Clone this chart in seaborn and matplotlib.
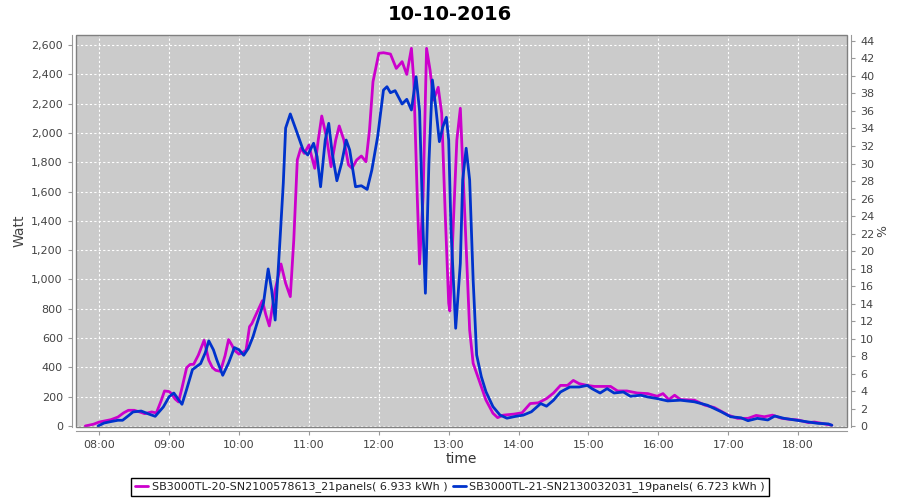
import matplotlib
matplotlib.use('Agg')
import matplotlib.pyplot as plt
import matplotlib.dates as mdates
from matplotlib.patches import Rectangle
from matplotlib.ticker import FuncFormatter, MultipleLocator
import seaborn as sns
import pandas as pd

day = '2016-10-10 '

# SB3000TL-20 (magenta), power in W
sb20_times = ['07:48', '07:55', '08:00', '08:05', '08:10', '08:16', '08:21', '08:25', '08:30', '08:35',
              '08:39', '08:45', '08:49', '08:53', '08:56', '09:00', '09:02', '09:05', '09:08', '09:11',
              '09:15', '09:18', '09:21', '09:25', '09:30', '09:34', '09:37', '09:40', '09:44', '09:48',
              '09:51', '09:54', '09:56', '10:00', '10:03', '10:06', '10:09', '10:11', '10:15', '10:20',
              '10:23', '10:26', '10:31', '10:36', '10:40', '10:44', '10:47', '10:50', '10:53', '10:56',
              '11:00', '11:02', '11:05', '11:08', '11:11', '11:15', '11:19', '11:23', '11:26', '11:30',
              '11:34', '11:37', '11:41', '11:45', '11:49', '11:52', '11:55', '12:00', '12:04', '12:10',
              '12:15', '12:20', '12:24', '12:28', '12:30', '12:33', '12:35', '12:38', '12:41', '12:44',
              '12:47', '12:51', '12:54', '12:57', '13:00', '13:01', '13:04', '13:07', '13:10', '13:12',
              '13:15', '13:18', '13:21', '13:27', '13:32', '13:38', '13:42', '13:47', '13:56', '14:03',
              '14:10', '14:17', '14:24', '14:30', '14:36', '14:42', '14:47', '14:52', '14:59', '15:05',
              '15:10', '15:19', '15:25', '15:33', '15:42', '15:51', '15:59', '16:04', '16:09', '16:14',
              '16:19', '16:31', '16:40', '16:48', '17:00', '17:08', '17:17', '17:24', '17:31', '17:38',
              '17:46', '17:54', '18:00', '18:09', '18:14', '18:23', '18:29']
sb20_watt = [0, 12, 27, 35, 43, 61, 90, 107, 107, 95,
             84, 96, 89, 170, 239, 235, 221, 185, 164, 260,
             398, 420, 421, 483, 585, 449, 400, 380, 373, 480,
             590, 550, 517, 490, 500, 517, 678, 699, 769, 855,
             760, 683, 928, 1106, 974, 883, 1270, 1816, 1896, 1861,
             1918, 1850, 1759, 1952, 2116, 1975, 1770, 1952, 2048, 1952,
             1782, 1759, 1816, 1843, 1804, 2020, 2350, 2544, 2548, 2539,
             2441, 2487, 2400, 2578, 2362, 1565, 1106, 1565, 2578, 2430,
             2225, 2312, 2134, 1452, 838, 785, 1384, 1952, 2169, 1793,
             1224, 655, 428, 291, 177, 87, 57, 74, 81, 90,
             153, 158, 187, 225, 277, 277, 311, 289, 277, 270,
             270, 270, 239, 239, 225, 221, 203, 221, 180, 210,
             180, 176, 142, 126, 74, 52, 52, 72, 63, 74,
             52, 45, 41, 23, 27, 14, 5]

# SB3000TL-21 (blue), power in W
sb21_times = ['07:59', '08:04', '08:10', '08:16', '08:20', '08:25', '08:29', '08:36', '08:43', '08:48',
              '08:55', '09:00', '09:04', '09:08', '09:11', '09:15', '09:20', '09:27', '09:31', '09:34',
              '09:38', '09:41', '09:46', '09:51', '09:56', '10:00', '10:04', '10:08', '10:12', '10:15',
              '10:21', '10:25', '10:28', '10:31', '10:35', '10:38', '10:40', '10:44', '10:49', '10:55',
              '10:59', '11:04', '11:07', '11:10', '11:14', '11:17', '11:20', '11:24', '11:28', '11:32',
              '11:35', '11:40', '11:45', '11:50', '11:54', '11:59', '12:04', '12:07', '12:10', '12:14',
              '12:20', '12:24', '12:28', '12:32', '12:35', '12:38', '12:40', '12:43', '12:46', '12:49',
              '12:52', '12:55', '12:58', '13:00', '13:02', '13:06', '13:10', '13:12', '13:15', '13:18',
              '13:21', '13:24', '13:28', '13:32', '13:38', '13:44', '13:50', '13:57', '14:04', '14:11',
              '14:19', '14:24', '14:30', '14:36', '14:44', '14:52', '14:59', '15:03', '15:10', '15:16',
              '15:22', '15:30', '15:36', '15:45', '15:51', '15:59', '16:08', '16:19', '16:31', '16:42',
              '16:54', '17:02', '17:11', '17:17', '17:25', '17:34', '17:40', '17:48', '17:57', '18:09',
              '18:17', '18:26', '18:29']
sb21_watt = [0, 20, 30, 39, 39, 70, 96, 102, 80, 66,
             130, 200, 225, 180, 148, 250, 385, 426, 500, 581,
             520, 449, 346, 430, 535, 520, 483, 530, 610, 689,
             840, 1072, 928, 723, 1249, 1659, 2034, 2130, 2020, 1884,
             1850, 1930, 1838, 1633, 1952, 2066, 1861, 1674, 1793, 1952,
             1884, 1633, 1640, 1615, 1747, 1975, 2293, 2316, 2275, 2289,
             2198, 2230, 2157, 2384, 2150, 1338, 906, 1793, 2362, 2169,
             1941, 2043, 2107, 1952, 1338, 667, 1110, 1679, 1896, 1679,
             997, 485, 337, 234, 132, 75, 53, 65, 74, 97,
             153, 135, 176, 232, 266, 266, 277, 255, 225, 255,
             225, 232, 203, 210, 198, 187, 171, 176, 165, 142,
             97, 63, 56, 36, 52, 41, 68, 52, 41, 27,
             18, 14, 5]

labels = ['SB3000TL-20-SN2100578613_21panels( 6.933 kWh )',
          'SB3000TL-21-SN2130032031_19panels( 6.723 kWh )']
colors = ['#CC00CC', '#0033CC']

sns.set_style('white')
plt.rcParams['font.family'] = ['DejaVu Sans']

df20 = pd.DataFrame({'time': pd.to_datetime([day + t for t in sb20_times]), 'watt': sb20_watt})
df21 = pd.DataFrame({'time': pd.to_datetime([day + t for t in sb21_times]), 'watt': sb21_watt})

fig = plt.figure(figsize=(9, 5), dpi=100)
ax = fig.add_axes([76 / 900, 1 - 427 / 500, (847 - 76) / 900, (427 - 35) / 500])
ax.set_facecolor('#CBCBCB')

sns.lineplot(data=df20, x='time', y='watt', color=colors[0], lw=2, ax=ax, label=labels[0], zorder=3)
sns.lineplot(data=df21, x='time', y='watt', color=colors[1], lw=2, ax=ax, label=labels[1], zorder=4)
handles, _ = ax.get_legend_handles_labels()
ax.get_legend().remove()

ax.set_xlim(pd.Timestamp(day + '07:40'), pd.Timestamp(day + '18:42'))
ax.set_ylim(-7, 2669)
ax.yaxis.set_major_locator(MultipleLocator(200))
ax.yaxis.set_major_formatter(FuncFormatter(lambda v, p: f'{v:,.0f}'))
ax.xaxis.set_major_locator(mdates.HourLocator())
ax.xaxis.set_major_formatter(mdates.DateFormatter('%H:%M'))
ax.grid(True, color='white', ls=(0, (2, 2)), lw=0.8)
ax.set_axisbelow(True)

ax.set_xlabel('time', fontsize=10, color='#333333', labelpad=1)
ax.set_ylabel('Watt', fontsize=10, color='#444444', labelpad=3)
fig.text(0.5, 1 - 15 / 500, '10-10-2016', fontsize=14, fontweight='bold',
         color='black', ha='center', va='center')

for side in ['top', 'right']:
    ax.spines[side].set_visible(False)
for side in ['left', 'bottom']:
    ax.spines[side].set_position(('outward', 3))
    ax.spines[side].set_color('#999999')
ax.tick_params(axis='both', labelsize=8, labelcolor='#444444', color='#999999',
               length=3, width=0.8, direction='out', left=True, bottom=True)

ax.add_patch(Rectangle((0, 0), 1, 1, transform=ax.transAxes, fill=False,
                       ec='#808080', lw=1, zorder=6, clip_on=False))

ax2 = ax.twinx()
ax2.set_ylim(-0.1, 44.68)
ax2.yaxis.set_major_locator(MultipleLocator(2))
for side in ['top', 'left', 'bottom']:
    ax2.spines[side].set_visible(False)
ax2.spines['right'].set_position(('outward', 3))
ax2.spines['right'].set_color('#999999')
ax2.tick_params(axis='y', labelsize=8, labelcolor='#444444', color='#999999',
                length=3, width=0.8, direction='out', right=True)
ax2.set_ylabel('%', fontsize=9, color='#444444', labelpad=1)

leg = fig.legend(handles, labels, loc='center', bbox_to_anchor=(450 / 900, 1 - 487 / 500),
                 ncol=2, frameon=True, fancybox=False, edgecolor='black', framealpha=1,
                 fontsize=8, handlelength=1.2, handletextpad=0.3, columnspacing=0.5,
                 borderpad=0.35, labelcolor='#222222')
leg.get_frame().set_linewidth(1)

fig.savefig('out.png', dpi=100)
